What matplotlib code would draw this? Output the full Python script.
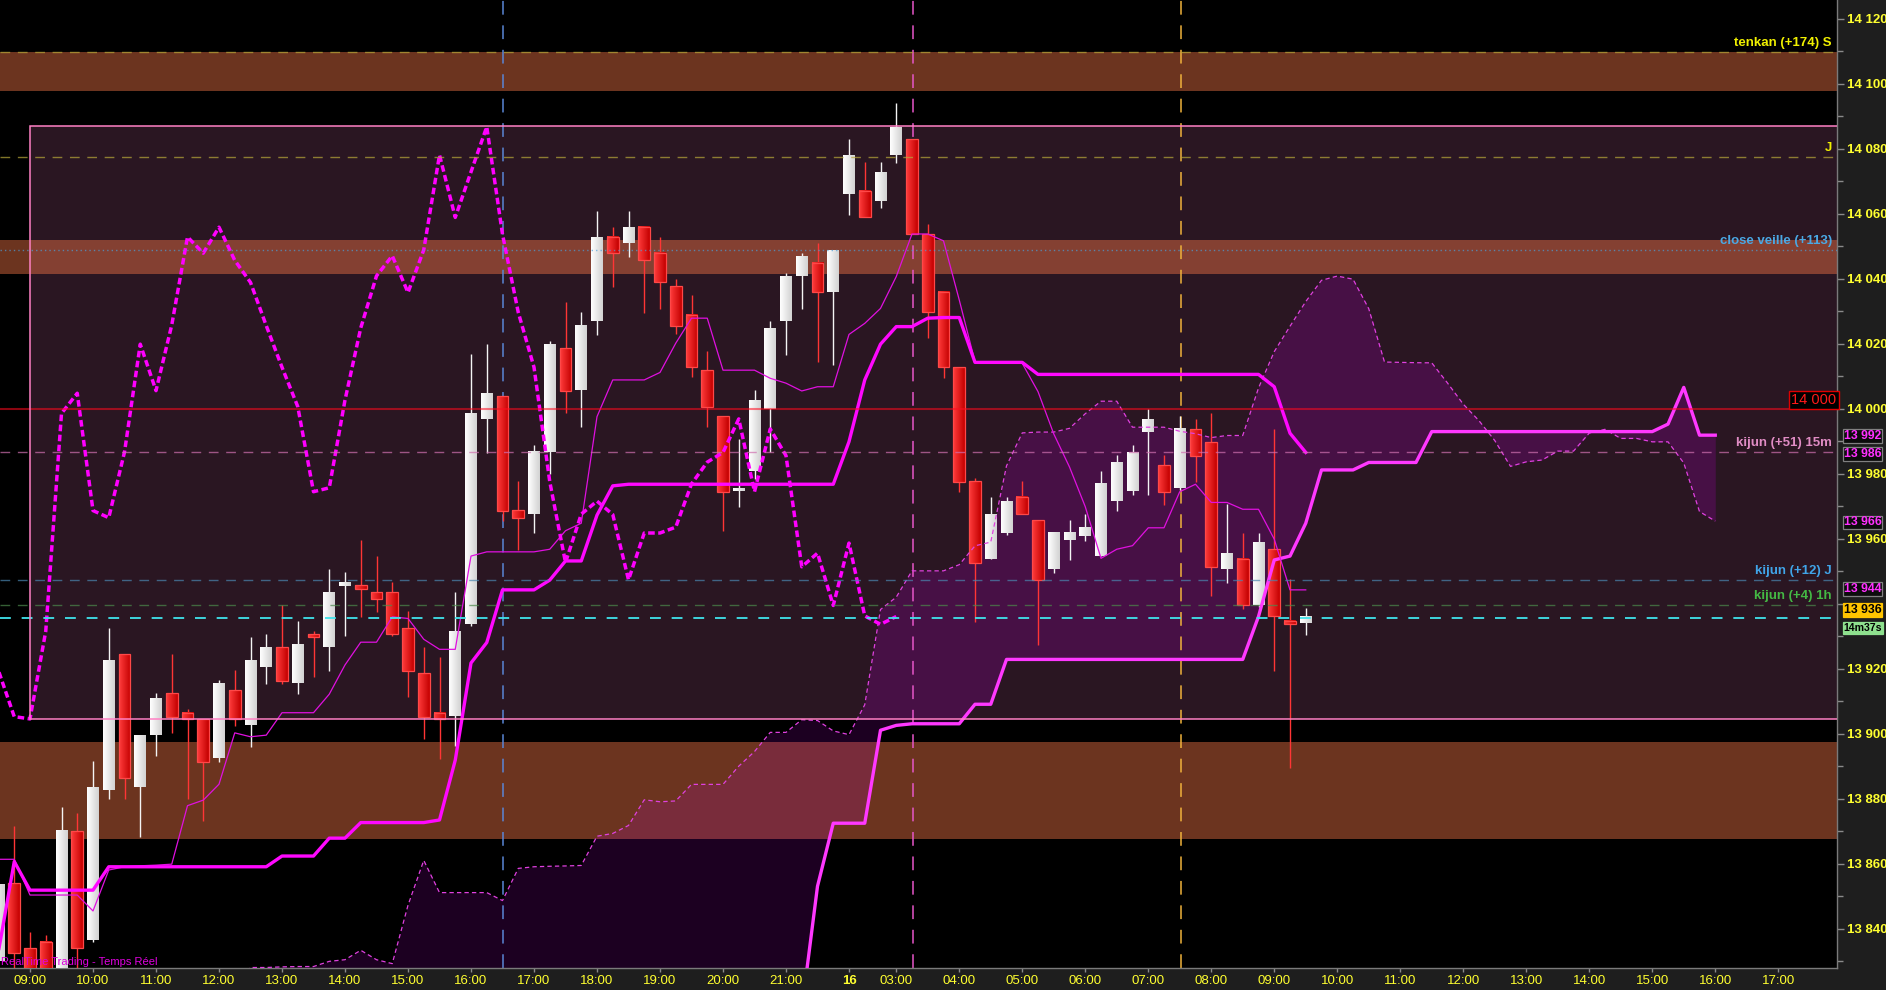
import numpy as np
import matplotlib
matplotlib.use("Agg")
import matplotlib.pyplot as plt
import matplotlib.transforms as mtrans
from matplotlib.patches import Rectangle
from matplotlib.colors import LinearSegmentedColormap

plt.rcParams['font.family'] = ['Liberation Sans', 'DejaVu Sans']

# ---------------- data (15-minute candles, slot 0 = 09:00 day 1) ----------------
first_slot = -2
opens = [13830, 13854, 13834, 13836, 13826, 13870, 13836.5, 13882.6, 13924.5, 13883.6,
         13899.5, 13912.4, 13906.4, 13904.5, 13892.6, 13913.3, 13902.6, 13920.6, 13926.5, 13915.6,
         13930.5, 13926.7, 13945.5, 13945.6, 13943.5, 13943.5, 13932.4, 13918.6, 13906.4, 13905.5,
         13933.7, 13996.8, 14003.8, 13968.8, 13967.5, 13986.6, 14018.5, 14005.7, 14027, 14052.8,
         14051, 14055.8, 14047.8, 14037.7, 14028.8, 14011.8, 13997.7, 13974.7, 13980.9, 14000,
         14027, 14040.9, 14044.7, 14036, 14066, 14066.9, 14064, 14078.1, 14082.8, 14053.6,
         14035.8, 14012.7, 13977.6, 13953.7, 13961.7, 13972.7, 13965.7, 13950.6, 13959.5, 13960.8,
         13954.6, 13971.5, 13974.7, 13992.9, 13982.6, 13975.5, 13993.7, 13989.7, 13950.6, 13953.7,
         13939.5, 13956.8, 13934.6, 13934]
highs = [13856, 13871.5, 13839, 13838, 13877.4, 13875.5, 13891.5, 13932.4, 13924.5, 13899.5,
         13912.4, 13924.5, 13907.5, 13904.5, 13916.5, 13919.5, 13929.8, 13930.7, 13939.5, 13934.6,
         13931.5, 13950.6, 13949.7, 13959.5, 13954.6, 13946.6, 13937.7, 13926.6, 13923.5, 13943.5,
         14016.8, 14019.8, 14003.8, 13977.7, 13988.8, 14020.9, 14032.8, 14029.7, 14060.8, 14055.8,
         14060.8, 14055.8, 14052.9, 14039.8, 14034.9, 14017.7, 13997.7, 13990.6, 14005.7, 14026.9,
         14041.6, 14047.9, 14050.8, 14048.8, 14082.9, 14075.8, 14075.8, 14093.9, 14082.8, 14056.8,
         14035.8, 14012.7, 13978.5, 13972.8, 13972.8, 13977.7, 13965.7, 13961.7, 13965.7, 13967.5,
         13980.8, 13985.7, 13988.8, 13999.7, 13985.7, 13997.7, 13996.8, 13998.7, 13970.6, 13961.7,
         13961.7, 13993.6, 13947.4, 13938.6]
lows = [13828, 13826, 13815, 13812, 13822, 13827, 13836, 13880, 13880, 13868.2,
        13893.2, 13900.2, 13880, 13873.2, 13891.3, 13902.3, 13896, 13915.2, 13915.2, 13912.2,
        13917.5, 13919.3, 13930, 13935.8, 13937.5, 13930, 13911.3, 13898.4, 13892.3, 13896.2,
        13933, 13986.4, 13965.5, 13956.5, 13961.6, 13980, 13998.5, 13994.4, 14022.7, 14037.5,
        14046.7, 14029.5, 14030.7, 14022.8, 14009.6, 13994.4, 13962.4, 13969.6, 13978.3, 13986.5,
        14016.5, 14030.6, 14014.4, 14013.4, 14059.5, 14058.8, 14061.8, 14075.6, 14053.6, 14021.6,
        14009.5, 13974.4, 13934.4, 13953.7, 13961, 13967.4, 13927.2, 13949.5, 13953.4, 13959.3,
        13954.6, 13968.5, 13973.5, 13973.4, 13970.3, 13975, 13977.5, 13942.4, 13946.4, 13938.4,
        13939, 13919.3, 13889.3, 13930.3]
closes = [13853.4, 13832.5, 13822, 13818, 13870.3, 13834, 13883.5, 13922.6, 13886.4, 13899.5,
          13910.6, 13905.2, 13904.5, 13891.3, 13915.5, 13904.5, 13922.6, 13926.6, 13916.2, 13927.5,
          13929.6, 13943.5, 13946.5, 13944.4, 13941.5, 13930.6, 13919.3, 13905.2, 13904.5, 13931.5,
          13998.5, 14004.7, 13968.6, 13966.4, 13986.6, 14019.8, 14005.5, 14025.7, 14052.8, 14047.8,
          14055.8, 14045.6, 14038.8, 14025.5, 14012.7, 14000.6, 13974.4, 13975.6, 14002.6, 14024.8,
          14040.8, 14047, 14035.7, 14048.8, 14078, 14058.8, 14072.8, 14086.7, 14053.6, 14029.6,
          14012.7, 13977.5, 13952.6, 13967.5, 13971.5, 13967.4, 13947.3, 13961.7, 13961.7, 13963.5,
          13976.8, 13983.5, 13986.5, 13996.8, 13974.4, 13993.7, 13985.5, 13951.3, 13955.5, 13939.4,
          13958.6, 13936.2, 13933.6, 13936]

tenkan = [13861.3, 13861.3, 13850.3, 13850.3, 13850.3, 13850.3, 13845.4, 13858, 13859, 13859.3,
          13859.5, 13859.8, 13877.8, 13879.5, 13884.4, 13900.2, 13899, 13899.5, 13906.4, 13906.4,
          13906.4, 13912.1, 13921.1, 13928.1, 13928.1, 13935.9, 13935.4, 13929, 13925.9, 13925.9,
          13954.6, 13955.9, 13955.9, 13955.9, 13955.9, 13956.7, 13962.4, 13964.7, 13997.5, 14008.8,
          14008.8, 14008.8, 14011.1, 14020.1, 14027.8, 14027.8, 14011.8, 14011.8, 14011.8, 14009.3,
          14007.8, 14005.4, 14006.7, 14006.7, 14022.8, 14026.2, 14030.8, 14040.6, 14053.7, 14053.7,
          14051.6, 14033.4, 14014.4, 14014.2, 14014, 14013.9, 14005.2, 13992.2, 13982, 13969.8,
          13953.9, 13956.7, 13957.8, 13963.3, 13963.3, 13974.4, 13976.7, 13971.1, 13971.1, 13969,
          13969, 13959.8, 13944.2, 13944.2]
kijun = ([13833, 13860.6] + [13851.8] * 5 + [13859] * 11 + [13862.3] * 3 + [13867.8] * 2
         + [13872.6] * 5 + [13873.4, 13891.8, 13921.7, 13928] + [13944.2] * 3 + [13947.2]
         + [13953.1] * 2 + [13967.2, 13976.2] + [13976.7] * 14 + [13989.8, 14008.8, 14019.8]
         + [14025.2] * 2 + [14027.8] + [14028] * 2 + [14014.2] * 4 + [14010.5] * 15
         + [14006.7, 13992.4, 13986.5])

# senkou span A before it can be derived from the visible tenkan/kijun (slots 13..23)
span_a_early_start = 13
span_a_early = [13824, 13828, 13828, 13828.2, 13828.3, 13828.3, 13829.9, 13830.4, 13833.3, 13830.4, 13829.2]
# senkou span B (slots 49..107)
span_b_start = 49
span_b = ([13815, 13853, 13872.4, 13872.4, 13872.4, 13901, 13902.5, 13903, 13903, 13903, 13903, 13909, 13909]
          + [13922.8] * 16 + [13936, 13953.4, 13954.6, 13964.7] + [13981.1] * 3 + [13983.4] * 4
          + [13992.9] * 15 + [13995.2, 14006.5, 13991.8, 13991.8])
shift = 26

tick_slots = [0, 4, 8, 12, 16, 20, 24, 28, 32, 36, 40, 44, 48, 52, 55, 59, 63, 67, 71, 75,
              79, 83, 87, 91, 95, 99, 103, 107, 111]
tick_labels = ['09:00', '10:00', '11:00', '12:00', '13:00', '14:00', '15:00', '16:00', '17:00',
               '18:00', '19:00', '20:00', '21:00', '16', '03:00', '04:00', '05:00', '06:00',
               '07:00', '08:00', '09:00', '10:00', '11:00', '12:00', '13:00', '14:00', '15:00',
               '16:00', '17:00']

range_low, range_high = 13904.5, 14086.8
zones = [(14097.8, 14109.8), (14041.4, 14051.8), (13867.4, 13897.3)]
vlines_slots = [30.05, 56.08, 73.1]
vlines_colors = ['#5a86d6', '#e656c8', '#f0b23c']

# level lines: (label, price, line colour, text colour, style)
levels = [
    ("tenkan (+174) S", 14109.8, '#b8a83a', '#f0f000', (0, (7, 5.5))),
    ("J", 14077.3, '#b8a83a', '#f0f000', (0, (7, 5.5))),
    ("close veille (+113)", 14048.8, '#4aa0dc', '#4aa8e4', (0, (1, 2.2))),
    ("kijun (+51) 15m", 13986.5, '#d070b0', '#e08cc4', (0, (7, 5.5))),
    ("kijun (+12) J", 13947.3, '#4a86b0', '#40a4e8', (0, (7, 5.5))),
    ("kijun (+4) 1h", 13939.4, '#4c8a4c', '#44b844', (0, (7, 5.5))),
]
round_level = 14000
last_price = 13935.5

ymin, ymax = 13827.85, 14125.7
xmin, xmax = -1.905, 114.73

# ---------------- figure ----------------
W, H = 1886, 990
fig = plt.figure(figsize=(W / 100, H / 100), dpi=100, facecolor='#1e1e1e')
ax = fig.add_axes([0, 22 / H, 1837 / W, 968 / H])
ax.set_facecolor('black')

slots = np.arange(first_slot, first_slot + len(closes))
tk = np.array(tenkan, float)
kj = np.array(kijun, float)

# range box
box_patch = Rectangle((0, range_low), xmax + 5, range_high - range_low,
                      facecolor='#2a1622', edgecolor='none', zorder=0.5)
ax.add_patch(box_patch)
ax.plot([xmax + 5, 0, 0, xmax + 5], [range_high, range_high, range_low, range_low],
        color='#ff80c4', lw=1.1, zorder=6.5, solid_joinstyle='miter')

# orange zones
for lo, hi in zones:
    ax.axhspan(lo, hi, color=(0.95, 0.46, 0.28), alpha=0.45, lw=0, zorder=1)

# cloud
a_slots = np.concatenate([np.arange(span_a_early_start, span_a_early_start + len(span_a_early)),
                          slots + shift])
a_vals = np.concatenate([np.array(span_a_early, float), (tk + kj) / 2])
b_slots = np.arange(span_b_start, span_b_start + len(span_b))
b_vals = np.array(span_b, float)
b_on_a = np.interp(a_slots, b_slots, b_vals, left=ymin - 40)
ax.fill_between(a_slots, a_vals, b_on_a, color=(0.80, 0.0, 0.92), alpha=0.14, lw=0,
                interpolate=True, zorder=1.5)
inner = ax.fill_between(a_slots, a_vals, b_on_a, color=(0.62, 0.0, 0.62), alpha=0.08, lw=0,
                        interpolate=True, zorder=1.6)
inner.set_clip_path(box_patch)

# vertical session lines
for xs, c in zip(vlines_slots, vlines_colors):
    ax.axvline(xs, color=c, lw=1.1, linestyle=(0, (9, 7)), zorder=2)

# candles
w = 0.76
grad = np.linspace(0, 1, 32).reshape(1, -1)
cm_up = LinearSegmentedColormap.from_list('up', ['#ffffff', '#d2d2d2'])
cm_dn = LinearSegmentedColormap.from_list('dn', ['#ff3c3c', '#c40000'])
for s, o, h, l, c in zip(slots, opens, highs, lows, closes):
    up = c >= o
    ax.vlines(s, l, h, color='#f4f4f4' if up else '#ff3535', lw=1.0, zorder=3)
    lo, hi = min(o, c), max(o, c)
    if hi - lo < 0.9:
        mid = (hi + lo) / 2
        lo, hi = mid - 0.45, mid + 0.45
    ax.imshow(grad, cmap=cm_up if up else cm_dn, extent=(s - w / 2, s + w / 2, lo, hi),
              aspect='auto', interpolation='bilinear', zorder=3.2)
    if not up:
        ax.add_patch(Rectangle((s - w / 2, lo), w, hi - lo, fill=False, ec='#ff4848',
                               lw=0.9, zorder=3.3))

# ichimoku lines
ax.plot(a_slots, a_vals, color='#e040e0', lw=0.9, linestyle=(0, (3.5, 2.5)), zorder=4)
ax.plot(b_slots, b_vals, color='#ff38ff', lw=2.4, zorder=4.2, solid_joinstyle='round')
ax.plot(slots, tk, color='#e010e0', lw=0.9, zorder=4.4)
ax.plot(slots, kj, color='#ff08ff', lw=2.4, zorder=4.5, solid_joinstyle='round')
ax.plot(slots - shift, closes, color='#ff00ff', lw=2.5, linestyle=(0, (1.9, 1.0)),
        zorder=4.6, dash_capstyle='butt')

# level lines and labels
trans = mtrans.blended_transform_factory(ax.transAxes, ax.transData)
for label, price, lc, tc, ls in levels:
    ax.axhline(price, color=lc, lw=1.0, linestyle=ls, alpha=0.7, zorder=6)
    ax.text(0.9972, price + 2.8, label, transform=trans, ha='right', va='center',
            color=tc, fontsize=9.5, fontweight='bold', zorder=9)
ax.axhline(round_level, color='#ff0a1e', lw=1.5, alpha=0.55, zorder=6)
ax.text(0.99975, round_level + 2.6, '14 000', transform=trans, ha='right', va='center',
        color='#ff1a1a', fontsize=10.5, zorder=9,
        bbox=dict(boxstyle='square,pad=0.16', fc='black', ec='#e00000', lw=1))
ax.axhline(last_price, color='#40e4ec', lw=1.3, linestyle=(0, (6, 6)), zorder=6.2)

ax.text(1 / 1837, 0.0058, 'RealTime Trading - Temps Réel', transform=ax.transAxes,
        ha='left', va='center', color='#e000e0', fontsize=8, zorder=9)

# right axis value boxes
boxes = [('13 992', 13991.6, '#ff30ff', '#0c0c0c', '#808080', 8.8),
         ('13 986', 13986.0, '#ff30ff', '#0c0c0c', '#808080', 8.8),
         ('13 966', 13965.0, '#ff30ff', '#0c0c0c', '#808080', 8.8),
         ('13 944', 13944.5, '#ff30ff', '#0c0c0c', '#808080', 8.8),
         ('13 936', 13938.0, '#000000', '#ffc400', '#ffc400', 8.8),
         ('14m37s', 13932.5, '#000000', '#8ee08e', '#8ee08e', 7.6)]
for txt, yv, tc, fc, ec, fs in boxes:
    ax.text(1.0036, yv, txt, transform=trans, ha='left', va='center', color=tc,
            fontsize=fs, fontweight='bold', clip_on=False, zorder=10,
            bbox=dict(boxstyle='square,pad=0.06', fc=fc, ec=ec, lw=0.9))

# axes formatting (the 13 940 label is hidden behind the value boxes in the original)
ax.set_xlim(xmin, xmax)
ax.set_ylim(ymin, ymax)
ax.yaxis.tick_right()
major = np.arange(13840, 14121, 20)
hidden_tick_labels = [13940]
ax.set_yticks(major)
ax.set_yticklabels(['' if v in hidden_tick_labels else f"{int(v):,}".replace(',', ' ')
                    for v in major])
ax.set_yticks(np.arange(13830, 14121, 20), minor=True)
ax.tick_params(axis='y', which='major', colors='#8a8a8a', labelcolor='#ffff30', length=5,
               width=1, pad=2, labelsize=9.5)
for t in ax.get_yticklabels():
    t.set_fontweight('bold')
ax.tick_params(axis='y', which='minor', colors='#8a8a8a', length=4, width=1)
ax.set_xticks(tick_slots)
ax.set_xticklabels(tick_labels)
ax.tick_params(axis='x', colors='#8a8a8a', labelcolor='#ffff30', length=3, width=1, pad=2,
               labelsize=9.5)
for t in ax.get_xticklabels():
    if t.get_text() == '16':
        t.set_fontweight('bold')
for sp in ['top', 'left']:
    ax.spines[sp].set_visible(False)
for sp in ['bottom', 'right']:
    ax.spines[sp].set_color('#7a7a7a')
    ax.spines[sp].set_linewidth(1)

fig.savefig('out.png', dpi=100, facecolor=fig.get_facecolor())
